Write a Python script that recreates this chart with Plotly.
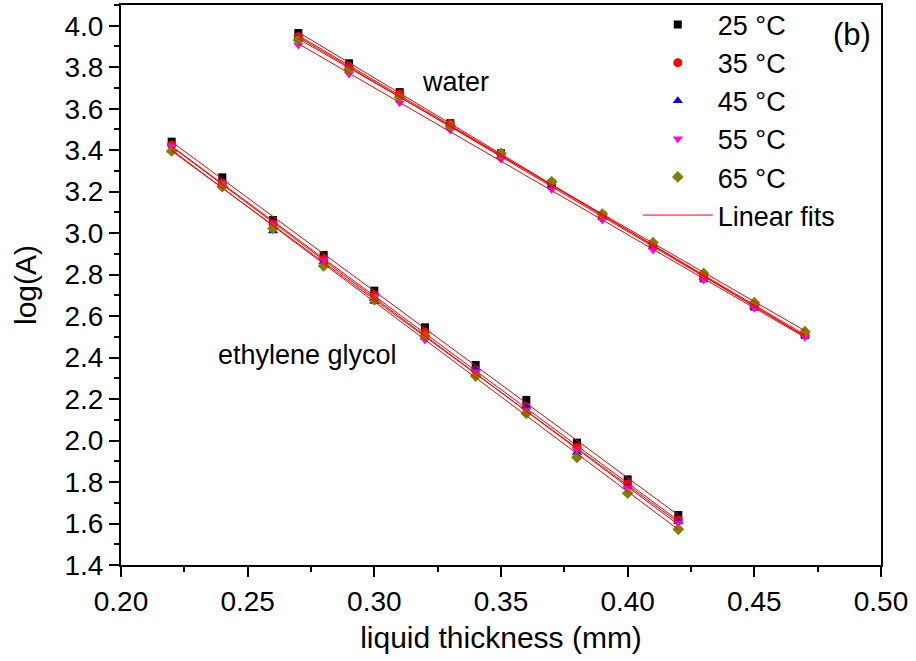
import numpy as np
import plotly.graph_objects as go

# ---- data ----
temps = ["25 °C", "35 °C", "45 °C", "55 °C", "65 °C"]

x_water = [0.27, 0.29, 0.31, 0.33, 0.35, 0.37, 0.39, 0.41, 0.43, 0.45, 0.47]
water_25 = [3.965, 3.819, 3.680, 3.530, 3.385, 3.240, 3.085, 2.940, 2.782, 2.646, 2.509]
water_35 = [3.947, 3.803, 3.671, 3.526, 3.380, 3.235, 3.085, 2.940, 2.790, 2.650, 2.515]
water_45 = [3.940, 3.800, 3.665, 3.515, 3.369, 3.230, 3.075, 2.935, 2.785, 2.645, 2.508]
water_55 = [3.907, 3.767, 3.629, 3.497, 3.356, 3.211, 3.063, 2.919, 2.774, 2.638, 2.498]
water_65 = [3.931, 3.787, 3.655, 3.517, 3.385, 3.248, 3.092, 2.954, 2.806, 2.665, 2.525]

x_eg = [0.22, 0.24, 0.26, 0.28, 0.30, 0.32, 0.34, 0.36, 0.38, 0.40, 0.42]
eg_25 = [3.441, 3.269, 3.063, 2.895, 2.723, 2.546, 2.364, 2.196, 1.990, 1.813, 1.641]
eg_35 = [3.425, 3.240, 3.044, 2.874, 2.702, 2.522, 2.340, 2.163, 1.967, 1.791, 1.617]
eg_45 = [3.400, 3.232, 3.010, 2.862, 2.670, 2.498, 2.345, 2.163, 1.943, 1.777, 1.609]
eg_55 = [3.420, 3.240, 3.044, 2.870, 2.694, 2.485, 2.332, 2.147, 1.958, 1.770, 1.601]
eg_65 = [3.396, 3.224, 3.023, 2.842, 2.678, 2.504, 2.311, 2.131, 1.919, 1.746, 1.572]

water_series = [water_25, water_35, water_45, water_55, water_65]
eg_series = [eg_25, eg_35, eg_45, eg_55, eg_65]

# ---- styles ----
colors = ["black", "red", "blue", "magenta", "#808000"]
symbols = ["square", "circle", "triangle-up", "triangle-down", "diamond"]
sizes = [8, 9, 9, 9, 9]
FONT = "Liberation Sans, Arial, sans-serif"

fig = go.Figure()

for i, t in enumerate(temps):
    for j, (xs, ys) in enumerate([(x_water, water_series[i]), (x_eg, eg_series[i])]):
        fig.add_trace(go.Scatter(
            x=xs, y=ys, mode="markers", name=t, legendgroup=t,
            showlegend=(j == 0),
            marker=dict(symbol=symbols[i], color=colors[i], size=sizes[i], line=dict(width=0)),
        ))

first = True
for xs, series in [(x_water, water_series), (x_eg, eg_series)]:
    for ys in series:
        k, b = np.polyfit(xs, ys, 1)
        xf = [xs[0], xs[-1]]
        fig.add_trace(go.Scatter(
            x=xf, y=[k * v + b for v in xf], mode="lines", name="Linear fits",
            legendgroup="fits", showlegend=first,
            line=dict(color="red", width=1),
        ))
        first = False

axis_common = dict(
    showline=True, linecolor="black", linewidth=2, mirror=True,
    ticks="outside", ticklen=10, tickwidth=2, tickcolor="black",
    showgrid=False, zeroline=False,
    tickfont=dict(family=FONT, size=28, color="black"),
)

fig.update_xaxes(
    range=[0.20, 0.50], dtick=0.05, tick0=0.2, tickformat=".2f",
    minor=dict(ticks="outside", ticklen=5, tickwidth=2, dtick=0.025, tickcolor="black"),
    title=dict(text="liquid thickness (mm)", font=dict(family=FONT, size=30, color="black"), standoff=11),
    **axis_common,
)
fig.update_yaxes(
    range=[1.4, 4.1], dtick=0.2, tick0=1.4, tickformat=".1f",
    minor=dict(ticks="outside", ticklen=5, tickwidth=2, dtick=0.1, tickcolor="black"),
    title=dict(text="log(A)", font=dict(family=FONT, size=30, color="black"), standoff=19),
    **axis_common,
)

fig.add_annotation(x=0.332, y=3.729, text="water", showarrow=False,
                   font=dict(family=FONT, size=27, color="black"))
fig.add_annotation(x=0.2736, y=2.413, text="ethylene glycol", showarrow=False,
                   font=dict(family=FONT, size=27, color="black"))
fig.add_annotation(x=0.99, y=0.983, xref="paper", yref="paper", text="(b)", showarrow=False,
                   xanchor="right", yanchor="top",
                   font=dict(family=FONT, size=31, color="black"))

fig.update_layout(
    width=916, height=661,
    margin=dict(l=121, r=35, t=5, b=96, autoexpand=False),
    paper_bgcolor="white", plot_bgcolor="white",
    font=dict(family=FONT, color="black"),
    legend=dict(x=0.68, y=1.008, xanchor="left", yanchor="top",
                bgcolor="rgba(0,0,0,0)", itemwidth=70,
                font=dict(family=FONT, size=27, color="black"),
                tracegroupgap=0),
    showlegend=True,
)

fig.write_html("out.html")
